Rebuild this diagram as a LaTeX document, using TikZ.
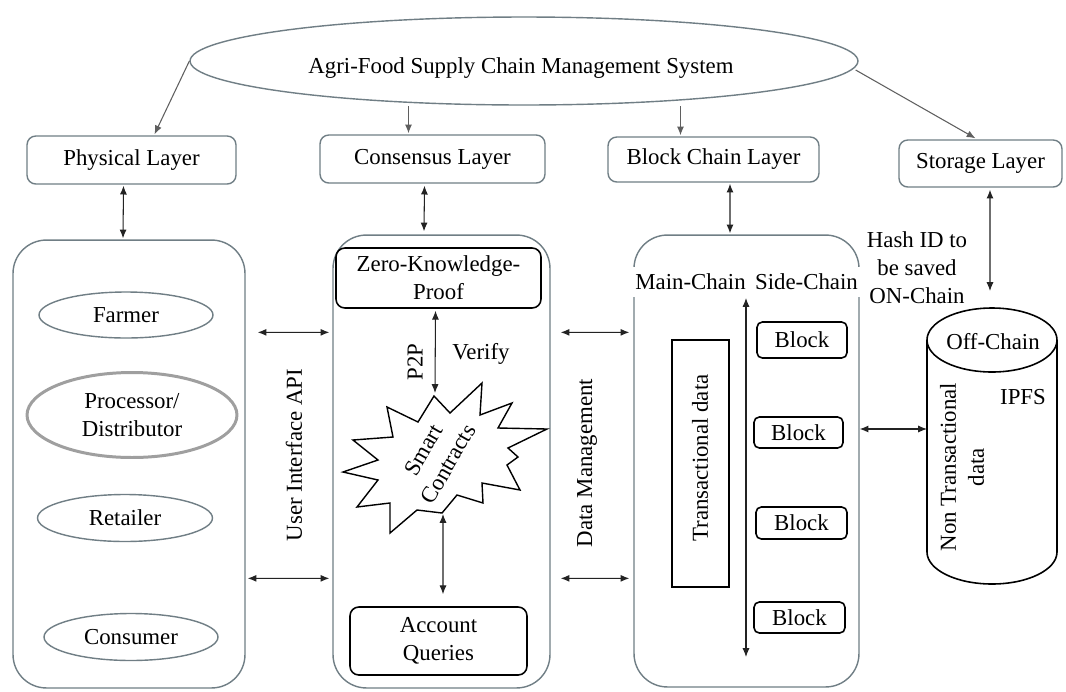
\documentclass[tikz,border=0pt]{standalone}
\usepackage{fontspec}
\setmainfont{Liberation Serif}
\usetikzlibrary{shapes.geometric, arrows.meta, calc}
\definecolor{pbord}{RGB}{112,126,133}
\definecolor{arrg}{RGB}{95,95,95}
\definecolor{arrd}{RGB}{35,35,35}
\begin{document}
\begin{tikzpicture}[x=0.02cm,y=-0.02cm, font=\fontsize{13}{16}\selectfont,
  layerbox/.style={draw=pbord, line width=0.8pt, rounded corners=5pt, inner sep=0pt, align=center},
  panel/.style={draw=pbord, line width=0.8pt, rounded corners=19pt, inner sep=0pt},
  actor/.style={ellipse, draw=pbord, line width=0.8pt, inner sep=0pt, align=center},
  inbox/.style={draw=black, line width=0.9pt, rounded corners=5pt, inner sep=0pt, align=center},
  blockbox/.style={draw=black, line width=0.9pt, rounded corners=3pt, inner sep=0pt},
  garr/.style={draw=arrg, line width=0.6pt, -{Latex[length=5pt,width=4pt]}},
  darr/.style={draw=arrd, line width=0.6pt, {Latex[length=5pt,width=4pt]}-{Latex[length=5pt,width=4pt]}},
  lbl/.style={inner sep=0pt, align=center}
]
\useasboundingbox[fill=white] (0,0) rectangle (1066,691);

% top system ellipse
\node[ellipse, draw=pbord, line width=0.8pt, minimum width=13.36cm, minimum height=1.76cm, inner sep=0pt] (top) at (524,61) {};
\node[lbl] (toptxt) at (521,68) {Agri-Food Supply Chain Management System};

% layer boxes
\node[layerbox, minimum width=4.18cm, minimum height=0.96cm] (phys) at (131.5,160) {Physical Layer};
\node[layerbox, minimum width=4.5cm, minimum height=0.96cm] (cons) at (432.5,159) {Consensus Layer};
\node[layerbox, minimum width=4.22cm, minimum height=0.9cm] (bcl) at (713.5,159.5) {Block Chain Layer};
\node[layerbox, minimum width=3.26cm, minimum height=0.94cm] (stor) at (980.5,163.5) {Storage Layer};

% panels
\node[panel, minimum width=4.64cm, minimum height=8.96cm] (lp) at (129,464) {};
\node[panel, minimum width=4.34cm, minimum height=9.06cm] (mp) at (441.5,461.5) {};
\node[panel, minimum width=4.5cm, minimum height=9.04cm] (rp) at (746.5,461) {};

% actors
\node[actor, minimum width=3.48cm, minimum height=0.92cm] (farmer) at (126,315) {Farmer};
\node[actor, draw=gray!75, line width=1.7pt, minimum width=4.2cm, minimum height=1.7cm] (proc) at (132,415) {Processor/\\Distributor};
\node[actor, minimum width=3.5cm, minimum height=0.94cm] (ret) at (125,518) {Retailer};
\node[actor, minimum width=3.48cm, minimum height=0.94cm] (consu) at (131,637) {Consumer};

% side labels
\node[lbl, rotate=90] (uiapi) at (294,455) {User Interface API};
\node[lbl, rotate=90] (dm) at (587,463) {Data Management};

% consensus panel content
\node[inbox, minimum width=4.1cm, minimum height=1.2cm] (zkp) at (438.5,278) {Zero-Knowledge-\\Proof};
\node[inbox, minimum width=3.54cm, minimum height=1.36cm] (aq) at (438.5,641) {Account\\Queries};
\draw[black, line width=0.8pt, fill=white, line join=miter]
  (434,396) -- (450,413) -- (482,383) -- (480,415) -- (512,403) -- (498,428) --
  (547,429) -- (508,448) -- (518,457) -- (507,465) -- (520,490) -- (482,483) --
  (483,503) -- (457,495) -- (442,513) -- (417,510) -- (390,533) -- (390,503) --
  (357,507) -- (378,480) -- (343,472) -- (378,460) -- (353,440) -- (393,437) --
  (387,407) -- (418,422) -- cycle;
\node[lbl, rotate=60] (sc) at (436,457) {Smart\\Contracts};
\node[lbl, rotate=90] (p2p) at (415,362) {P2P};
\node[lbl] (verify) at (481,354) {Verify};
\coordinate (starT) at (435,393);
\coordinate (starB) at (443,514);

% blockchain panel content
\node[lbl, fill=white, inner xsep=3pt, inner ysep=4pt] (mainc) at (690.5,282) {Main-Chain};
\node[lbl, fill=white, inner xsep=1pt, inner ysep=4pt] (sidec) at (806.5,282) {Side-Chain};
\node[draw=black, line width=0.9pt, minimum width=1.14cm, minimum height=4.94cm, inner sep=0pt] (trans) at (700.5,463.5) {};
\node[lbl, rotate=90] (transtxt) at (700,458) {Transactional data};
\node[blockbox, minimum width=1.8cm, minimum height=0.72cm] (b1) at (802,340) {Block};
\node[blockbox, minimum width=1.78cm, minimum height=0.62cm] (b2) at (798.5,432.5) {Block};
\node[blockbox, minimum width=1.82cm, minimum height=0.64cm] (b3) at (801.5,523) {Block};
\node[blockbox, minimum width=1.82cm, minimum height=0.62cm] (b4) at (799.5,617.5) {Block};
\coordinate (chT) at (746,298);
\coordinate (chB) at (746,657);

% storage cylinder
\draw[black, line width=0.9pt] (927,340) -- (927,552)
  .. controls (927,569.7) and (956.1,584) .. (992,584)
  .. controls (1027.9,584) and (1057,569.7) .. (1057,552) -- (1057,340);
\draw[black, line width=0.9pt] (992,340) ellipse [x radius=65, y radius=32];
\coordinate (cylW) at (927,429);
\coordinate (cylT) at (990,291);
\node[lbl] (offc) at (993,342) {Off-Chain};
\node[lbl] (ipfs) at (1023,397) {IPFS};
\node[lbl, rotate=90] (ntd) at (962,467) {Non Transactional\\data};
\node[lbl] (hash) at (917,268) {Hash ID to\\be saved\\ON-Chain};

% arrows from system
\draw[garr] (top.west) -- ($(phys.north)+(23,-1)$);
\draw[garr] ($(cons.north)+(-24,-28)$) -- ($(cons.north)+(-24,-1)$);
\draw[garr] ($(bcl.north)+(-33,-30)$) -- ($(bcl.north)+(-33,-1)$);
\draw[garr] ($(top.east)+(-3,9)$) -- ($(stor.north)+(-5,-1)$);

% double arrows
\draw[darr] ($(phys.south)+(-8,1)$) -- ($(lp.north)+(-6,-1)$);
\draw[darr] ($(cons.south)+(-8,2)$) -- ($(mp.north)+(-17.5,-3)$);
\draw[darr] ($(bcl.south)+(16.5,1)$) -- ($(rp.north)+(-16.5,-1)$);
\draw[darr] ($(stor.south)+(9.5,2)$) -- (cylT);
\draw[darr] ($(lp.north east)+(12,93)$) -- ($(mp.north west)+(-3,98)$);
\draw[darr] ($(lp.north east)+(2,339)$) -- ($(mp.north west)+(-3,344)$);
\draw[darr] ($(mp.north east)+(10,98)$) -- ($(rp.north west)+(-4,98)$);
\draw[darr] ($(mp.north east)+(10,344)$) -- ($(rp.north west)+(-4,344)$);
\draw[darr] ($(zkp.south)+(-3,2)$) -- (starT);
\draw[darr] (starB) -- ($(aq.north)+(4.5,-12)$);
\draw[darr] (chT) -- (chB);
\draw[darr] ($(rp.east)+(0,-32)$) -- (cylW);
\end{tikzpicture}
\end{document}
